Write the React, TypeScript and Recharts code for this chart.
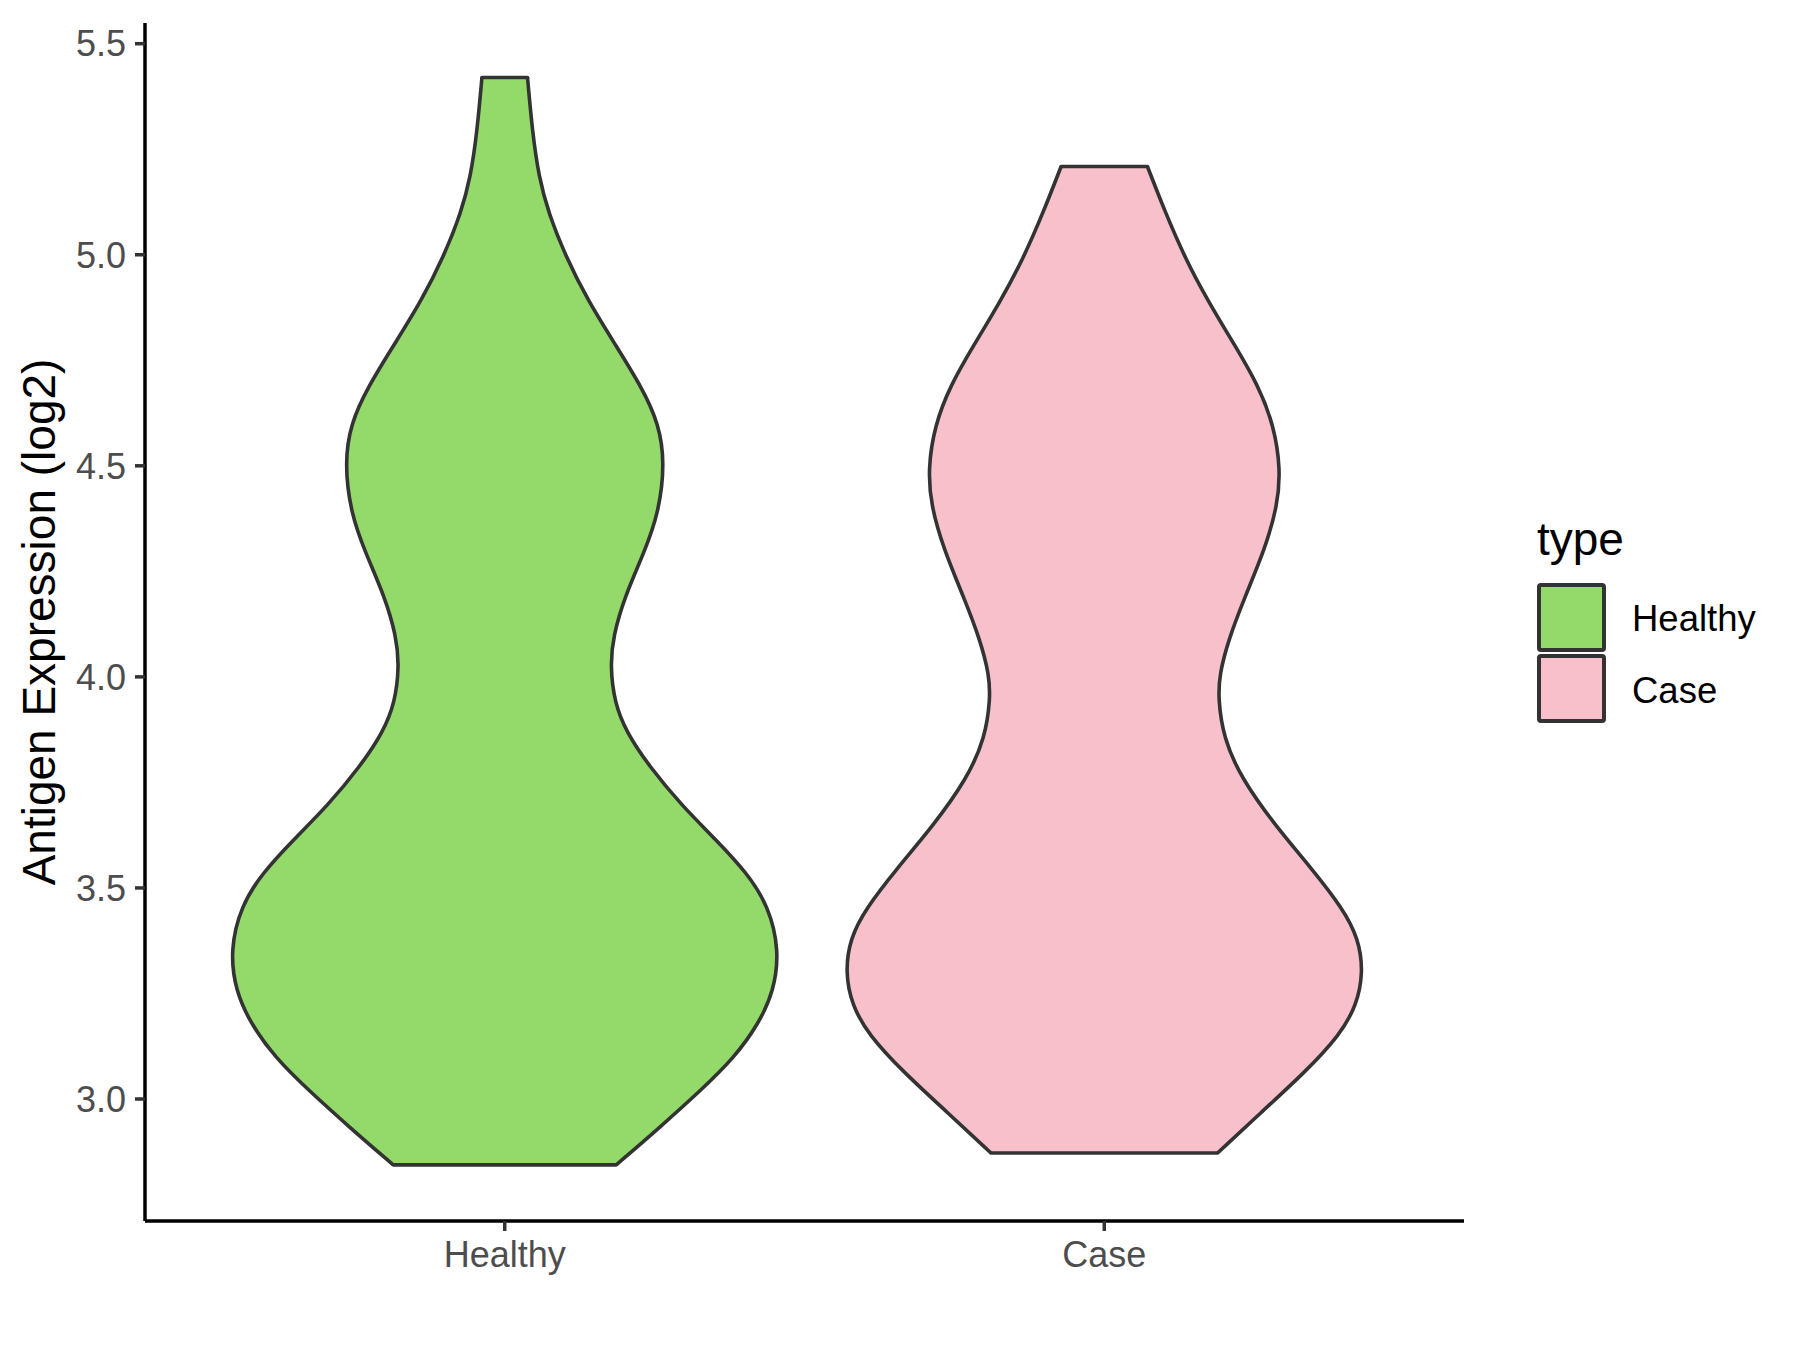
import { ComposedChart, Area, XAxis, YAxis, ReferenceLine } from "recharts";

const FONT = '"Liberation Sans", Arial, Helvetica, sans-serif';

const categories = ["Healthy", "Case"];
const fills = ["#93DA6A", "#F8C0CB"];
const yTicks = [3.0, 3.5, 4.0, 4.5, 5.0, 5.5];

// violin outlines: y value and half width (in category units)
const healthyY = [2.844, 2.932, 3.019, 3.098, 3.177, 3.256, 3.352, 3.457, 3.536, 3.615, 3.694, 3.79, 3.869, 3.939, 4.027, 4.097, 4.19, 4.296, 4.389, 4.507, 4.6, 4.685, 4.786, 4.888, 4.998, 5.099, 5.183, 5.293, 5.42];
const healthyHalf = [0.186, 0.258, 0.326, 0.383, 0.423, 0.449, 0.458, 0.44, 0.404, 0.352, 0.296, 0.24, 0.203, 0.183, 0.176, 0.181, 0.2, 0.233, 0.257, 0.267, 0.257, 0.229, 0.185, 0.14, 0.101, 0.073, 0.057, 0.046, 0.038];

const caseY = [2.872, 2.97, 3.065, 3.152, 3.222, 3.301, 3.38, 3.451, 3.546, 3.648, 3.759, 3.854, 3.948, 4.005, 4.088, 4.191, 4.303, 4.406, 4.492, 4.595, 4.69, 4.785, 4.888, 4.991, 5.103, 5.209];
const caseHalf = [0.189, 0.263, 0.336, 0.393, 0.421, 0.432, 0.424, 0.398, 0.346, 0.285, 0.229, 0.199, 0.19, 0.192, 0.207, 0.235, 0.268, 0.289, 0.294, 0.283, 0.257, 0.218, 0.174, 0.135, 0.101, 0.072];

const empty = [null, null];
const rows = [
  ...healthyY.map((y, i) => ({ y, healthy: [1 - healthyHalf[i], 1 + healthyHalf[i]], case: empty })),
  ...caseY.map((y, i) => ({ y, healthy: empty, case: [2 - caseHalf[i], 2 + caseHalf[i]] })),
].sort((a, b) => a.y - b.y);

const caps = [
  { c: 1, y: healthyY[0], h: healthyHalf[0] },
  { c: 1, y: healthyY[healthyY.length - 1], h: healthyHalf[healthyHalf.length - 1] },
  { c: 2, y: caseY[0], h: caseHalf[0] },
  { c: 2, y: caseY[caseY.length - 1], h: caseHalf[caseHalf.length - 1] },
];

const tickStyle = { fill: "#4D4D4D", fontSize: 36, fontFamily: FONT };
const OUTLINE = "#333333";
const LW = 3.6;

export default function App() {
  return (
    <div style={{ position: "absolute", left: 0, top: 0, width: 1800, height: 1350, background: "#fff", fontFamily: FONT }}>
      <ComposedChart
        layout="vertical"
        width={1800}
        height={1350}
        data={rows}
        margin={{ top: 23, right: 336, bottom: 69, left: 0 }}
      >
        <XAxis
          type="number"
          domain={[0.4, 2.6]}
          ticks={[1, 2]}
          tickFormatter={(v: number) => categories[v - 1]}
          height={60}
          tick={tickStyle}
          tickSize={10}
          tickMargin={10}
          axisLine={{ stroke: "#000", strokeWidth: 3.5 }}
          tickLine={{ stroke: "#333", strokeWidth: 3.5 }}
        />
        <YAxis
          type="number"
          dataKey="y"
          reversed
          domain={[2.711, 5.549]}
          ticks={yTicks}
          tickFormatter={(v: number) => v.toFixed(1)}
          width={145}
          tick={tickStyle}
          tickSize={10}
          tickMargin={9}
          axisLine={{ stroke: "#000", strokeWidth: 3.5 }}
          tickLine={{ stroke: "#333", strokeWidth: 3.5 }}
          label={{
            content: (p: any) => {
              const vb = p.viewBox || { x: 0, y: 23, height: 1198 };
              const cx = 55;
              const cy = vb.y + vb.height / 2;
              return (
                <text x={cx} y={cy} transform={`rotate(-90 ${cx} ${cy})`} textAnchor="middle" fontSize={46} fontFamily={FONT} fill="#000">
                  Antigen Expression (log2)
                </text>
              );
            },
          }}
        />
        <Area
          dataKey="healthy"
          type="basis"
          connectNulls
          fill={fills[0]}
          fillOpacity={1}
          stroke={OUTLINE}
          strokeWidth={LW}
          isAnimationActive={false}
          dot={false}
          activeDot={false}
        />
        <Area
          dataKey="case"
          type="basis"
          connectNulls
          fill={fills[1]}
          fillOpacity={1}
          stroke={OUTLINE}
          strokeWidth={LW}
          isAnimationActive={false}
          dot={false}
          activeDot={false}
        />
        {caps.map((k, i) => (
          <ReferenceLine
            key={i}
            segment={[{ x: k.c - k.h, y: k.y }, { x: k.c + k.h, y: k.y }]}
            stroke={OUTLINE}
            strokeWidth={LW}
            strokeLinecap="round"
          />
        ))}
      </ComposedChart>
      <svg width={1800} height={1350} style={{ position: "absolute", left: 0, top: 0, pointerEvents: "none" }}>
        <text x={1537} y={555} fontSize={46} fontFamily={FONT} fill="#000">type</text>
        {categories.map((c, i) => (
          <g key={c}>
            <rect x={1539} y={585 + i * 71} width={65} height={65} rx={2} fill={fills[i]} stroke={OUTLINE} strokeWidth={4} />
            <text x={1632} y={631 + i * 72} fontSize={36.5} fontFamily={FONT} fill="#000">{c}</text>
          </g>
        ))}
      </svg>
    </div>
  );
}
